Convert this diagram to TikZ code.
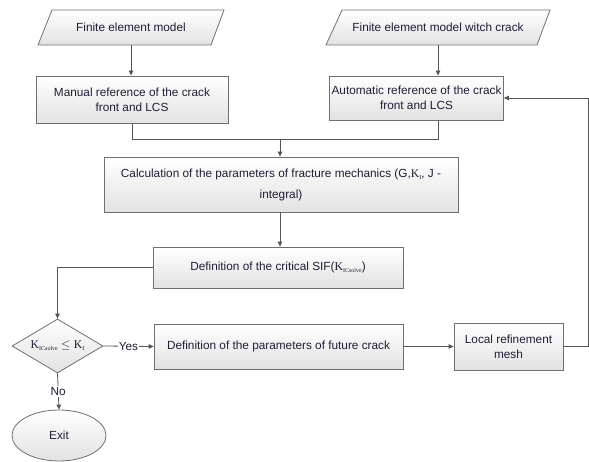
\documentclass[tikz,border=0pt]{standalone}
\usepackage{fontspec}
\setmainfont{Liberation Sans}
\newfontfamily\seriffam{Liberation Serif}
\usetikzlibrary{shapes.geometric,arrows.meta}
\definecolor{txt}{HTML}{1E1E36}
\definecolor{brd}{HTML}{707070}
\definecolor{ln}{HTML}{555555}
\definecolor{bot}{HTML}{E2E2E2}
\newcommand{\Ksub}[1]{{\seriffam K\raisebox{-2pt}{\fontsize{6}{6}\selectfont #1}}}
\begin{document}
\begin{tikzpicture}[x=1pt,y=-1pt,
  font=\fontsize{11.8}{15}\selectfont,
  box/.style={draw=brd, line width=0.8pt, top color=white, bottom color=bot,
    text=txt, align=center, inner sep=2pt},
  para/.style={draw=brd, line width=0.8pt, top color=white, bottom color=bot},
  lbl/.style={text=txt, align=center, inner sep=0pt},
  conn/.style={draw=ln, line width=0.8pt},
  arr/.style={conn, -{Triangle[width=4.5pt,length=5pt]}}]
\useasboundingbox (0,0) rectangle (589,462);
% input parallelograms
\draw[para] (38,45) -- (52,10) -- (224,10) -- (211,45) -- cycle;
\node[lbl, minimum height=35pt] (p1) at (131,27.5) {Finite element model};
\draw[para] (326,45) -- (342,10) -- (550,10) -- (537,45) -- cycle;
\node[lbl, minimum height=35pt] (p2) at (438,27.5) {Finite element model witch crack};
% boxes
\node[box, minimum width=192pt, minimum height=47pt] (man) at (132,99.5) {Manual reference of the crack\\front and LCS};
\node[box, minimum width=151pt, minimum height=44pt] (aut) at (416.5,98) {Automatic reference of the crack\\front and LCS};
\node[box, minimum width=354pt, minimum height=55pt, font=\fontsize{11.8}{21}\selectfont] (calc) at (281,184.5) {\raisebox{-3pt}{Calculation of the parameters of fracture mechanics (G,\Ksub{I}, J -}\\\raisebox{-3pt}{integral)}};
\node[box, minimum width=250pt, minimum height=41pt] (sif) at (278,267.5) {Definition of the critical SIF(\Ksub{ICsolve})};
\node[box, diamond, aspect=1.7, minimum width=91pt, minimum height=54pt, inner sep=0pt] (dia) at (57.5,346) {\Ksub{ICsolve} {\seriffam$\leq$} \Ksub{I}};
\node[box, minimum width=249pt, minimum height=45pt] (fut) at (278.5,346.5) {Definition of the parameters of future crack};
\node[box, minimum width=109pt, minimum height=47pt] (loc) at (508.5,346.5) {Local refinement\\mesh};
\node[box, ellipse, minimum width=94pt, minimum height=51pt] (exit) at (59,435.5) {Exit};
\coordinate (j) at (280,139);
\coordinate (rc) at (588,346.5);
% connectors
\draw[arr] (p1.south) -- (p1.south |- man.north);
\draw[arr] (p2.south) -- (p2.south |- aut.north);
\draw[conn] (man.south) |- (j);
\draw[conn] (p2.south |- aut.south) |- (j);
\draw[arr] (j) -- (j |- calc.north);
\draw[arr] (calc.south -| j) -- (j |- sif.north);
\draw[arr] (sif.west) -| (dia.north);
\draw[arr] (dia.east) -- node[fill=white, text=txt, inner sep=1pt] {Yes} (fut.west);
\draw[arr] (fut.east) -- (loc.west);
\draw[arr] (dia.south) -- node[fill=white, text=txt, inner sep=1pt] {No} (exit.north);
\draw[arr] (loc.east) -- (rc) |- (aut.east);
\end{tikzpicture}
\end{document}
